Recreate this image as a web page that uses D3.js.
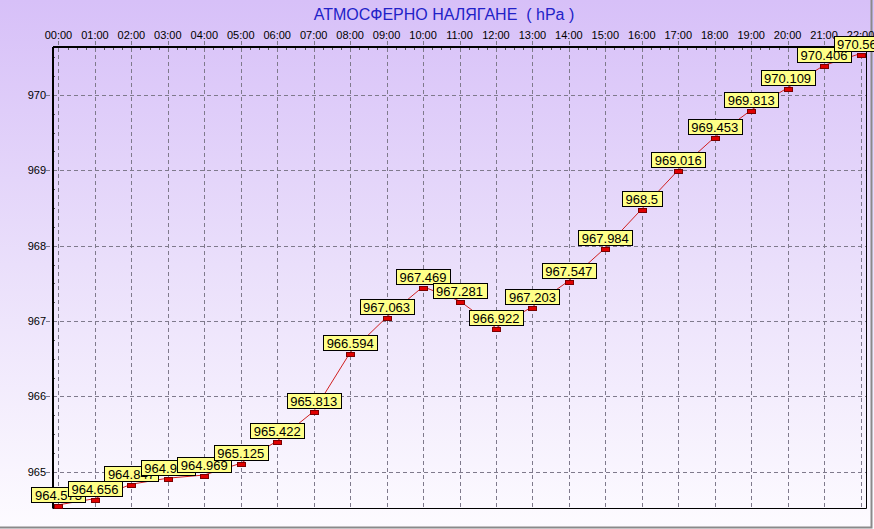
<!DOCTYPE html>
<html>
    <head>
        <meta charset="utf-8">
        <title></title>
        <style media="screen">
            body { margin: 0; }
            svg text { font-family: Arial, "Liberation Sans", sans-serif; white-space: pre; }
            svg .grid {
                stroke: #7f7a8c;
                stroke-dasharray: 4,3;
                fill: none;
            }
            svg .line {
                fill: none;
                stroke: #d02020;
            }
            svg .box {
                fill: #ffff88;
                stroke: #000;
            }
            svg .marker {
                fill: #e00000;
                stroke: #7a0000;
            }
        </style>
    </head>
    <body>
        <svg class='drawing'></svg>

        <script src="https://cdn.jsdelivr.net/npm/d3@7"></script>
        <script>
            var w = 874;
            var h = 529;

            var hours = ['00:00', '01:00', '02:00', '03:00', '04:00', '05:00', '06:00', '07:00',
                '08:00', '09:00', '10:00', '11:00', '12:00', '13:00', '14:00', '15:00', '16:00',
                '17:00', '18:00', '19:00', '20:00', '21:00', '22:00'];
            var pressure = [964.573, 964.656, 964.847, 964.927, 964.969, 965.125, 965.422, 965.813,
                966.594, 967.063, 967.469, 967.281, 966.922, 967.203, 967.547, 967.984, 968.5,
                969.016, 969.453, 969.813, 970.109, 970.406, 970.563];
            var yTicks = [965, 966, 967, 968, 969, 970];
            var title = 'АТМОСФЕРНО НАЛЯГАНЕ  ( hPa )';

            // plot box (window.top is read-only, so no plain "top")
            var pL = 53, pR = 866, pT = 47, pB = 508;

            var x = d3.scalePoint()
                .domain(hours)
                .range([pL, pR])
                .padding(0.15);
            var y = d3.scaleLinear()
                .domain([964.518, 970.637])
                .range([pB, pT]);

            var svg = d3.select('.drawing')
                .attr('width', w)
                .attr('height', h);

            var grad = svg.append('defs').append('linearGradient')
                .attr('id', 'bg')
                .attr('x1', 0).attr('y1', 0)
                .attr('x2', 0).attr('y2', 1);
            grad.append('stop').attr('offset', 0).attr('stop-color', '#d7c0f8');
            grad.append('stop').attr('offset', 0.5).attr('stop-color', '#eadffb');
            grad.append('stop').attr('offset', 1).attr('stop-color', '#fdfbff');

            svg.append('rect')
                .attr('width', w)
                .attr('height', h)
                .attr('fill', 'url(#bg)');

            // frame at right and bottom
            svg.append('path')
                .attr('d', 'M871.5,0V527.5H0')
                .attr('fill', 'none')
                .attr('stroke', '#8a8a8a')
                .attr('stroke-width', 2);

            svg.append('text')
                .attr('x', 444)
                .attr('y', 20)
                .attr('text-anchor', 'middle')
                .attr('font-size', 16)
                .attr('fill', '#2222c8')
                .text(title);

            // grid
            svg.selectAll('.vgrid')
                .data(hours)
                .enter()
                    .append('line')
                    .attr('class', 'grid')
                    .attr('x1', d => Math.round(x(d)) + .5)
                    .attr('x2', d => Math.round(x(d)) + .5)
                    .attr('y1', pT - 6)
                    .attr('y2', pB);
            svg.selectAll('.hgrid')
                .data(yTicks)
                .enter()
                    .append('line')
                    .attr('class', 'grid')
                    .attr('x1', pL - 7)
                    .attr('x2', pR)
                    .attr('y1', d => Math.round(y(d)) + .5)
                    .attr('y2', d => Math.round(y(d)) + .5);

            // minor ticks
            var yMinor = d3.range(Math.ceil(y.domain()[0] * 4), Math.floor(y.domain()[1] * 4) + 1)
                .map(d => d / 4)
                .filter(d => d % 1 !== 0);
            svg.selectAll('.ymin')
                .data(yMinor)
                .enter()
                    .append('line')
                    .attr('stroke', '#555')
                    .attr('x1', pL)
                    .attr('x2', pL + 2)
                    .attr('y1', d => Math.round(y(d)) + .5)
                    .attr('y2', d => Math.round(y(d)) + .5);
            var step = x.step();
            var xMinor = [];
            hours.forEach(function(d) {
                [1, 2, 3].forEach(q => xMinor.push(x(d) + q * step / 4));
            });
            svg.selectAll('.xmin')
                .data(xMinor.filter(d => d < pR))
                .enter()
                    .append('line')
                    .attr('stroke', '#555')
                    .attr('x1', d => Math.round(d) + .5)
                    .attr('x2', d => Math.round(d) + .5)
                    .attr('y1', pT)
                    .attr('y2', pT + 3);

            // axes frame
            svg.append('line')
                .attr('stroke', '#000')
                .attr('x1', pL).attr('x2', pL)
                .attr('y1', pT).attr('y2', pB + .5)
                .attr('stroke-width', 2);
            svg.append('line')
                .attr('stroke', '#000')
                .attr('x1', pL).attr('x2', pR + .5)
                .attr('y1', pT).attr('y2', pT)
                .attr('stroke-width', 2);
            svg.append('line')
                .attr('stroke', '#000')
                .attr('x1', pL).attr('x2', pR + .5)
                .attr('y1', pB + .5).attr('y2', pB + .5);
            svg.append('line')
                .attr('stroke', '#000')
                .attr('x1', pR + .5).attr('x2', pR + .5)
                .attr('y1', pT).attr('y2', pB + .5);

            // tick labels
            svg.selectAll('.xlab')
                .data(hours)
                .enter()
                    .append('text')
                    .attr('x', d => x(d))
                    .attr('y', 39)
                    .attr('text-anchor', 'middle')
                    .attr('font-size', 11)
                    .text(d => d);
            svg.selectAll('.ylab')
                .data(yTicks)
                .enter()
                    .append('text')
                    .attr('x', 46)
                    .attr('y', d => y(d) + 4)
                    .attr('text-anchor', 'end')
                    .attr('font-size', 11)
                    .text(d => d);

            var pts = pressure.map((v, i) => [x(hours[i]), y(v), v]);

            svg.append('path')
                .attr('class', 'line')
                .attr('d', d3.line()(pts.map(p => [p[0], p[1] + 1])));

            var lab = svg.selectAll('.lab')
                .data(pts)
                .enter()
                    .append('g');
            lab.append('rect')
                .attr('class', 'box');
            lab.append('text')
                .attr('x', d => d[0])
                .attr('y', d => Math.round(d[1]) - 4)
                .attr('text-anchor', 'middle')
                .attr('font-size', 13)
                .text(d => String(d[2]));
            lab.each(function(d) {
                var bw = d3.select(this).select('text').node().getComputedTextLength() + 7;
                d3.select(this).select('rect')
                    .attr('x', Math.round(d[0] - bw / 2) + .5)
                    .attr('y', Math.round(d[1]) - 16.5)
                    .attr('width', Math.round(bw))
                    .attr('height', 15);
            });

            svg.selectAll('.marker')
                .data(pts)
                .enter()
                    .append('rect')
                    .attr('class', 'marker')
                    .attr('x', d => Math.round(d[0] - 4) + .5)
                    .attr('y', d => Math.round(d[1]) + .5)
                    .attr('width', 8)
                    .attr('height', 4);
        </script>
    </body>
</html>
